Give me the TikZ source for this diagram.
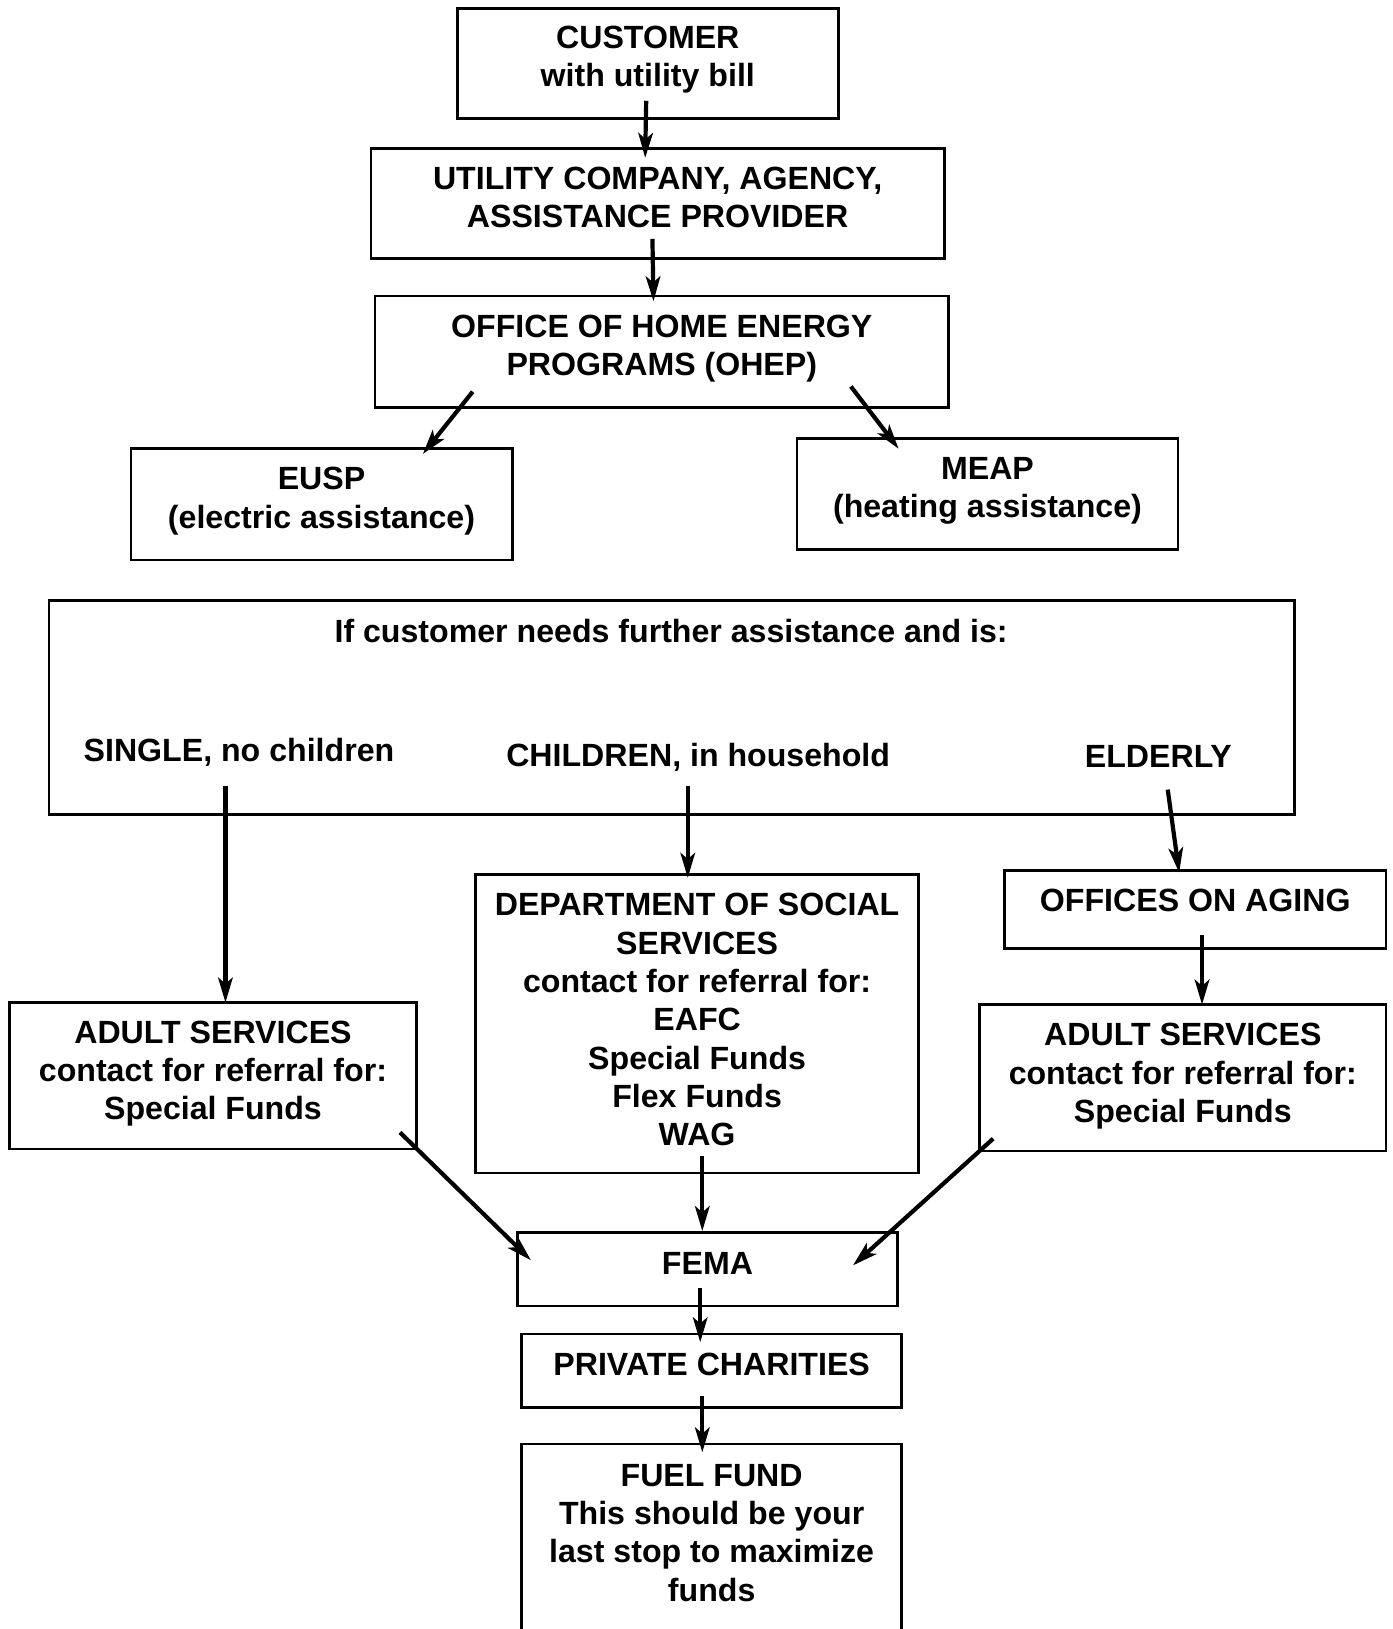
\documentclass[tikz,border=0pt]{standalone}
\usepackage{fontspec}
\setmainfont{Liberation Sans}
\usetikzlibrary{arrows.meta}
\begin{document}
\begin{tikzpicture}[x=0.02cm,y=-0.02cm,
  box/.style={draw,line width=1.5pt,inner sep=0pt,rectangle},
  txt/.style={font=\fontsize{17.6}{21}\selectfont\bfseries,align=center,inner sep=0pt},
  arr/.style={line width=2.3pt,-{Stealth[length=0.48cm,width=0.28cm,inset=0.12cm]}}]
\clip (0,0) rectangle (1340,1568);
% boxes
\node[box,minimum width=7.34cm,minimum height=2.12cm,label={[txt,yshift=0.07cm]center:{CUSTOMER\\with utility bill}}] (cust) at (623.5,61) {};
\node[box,minimum width=11.04cm,minimum height=2.12cm,label={[txt,yshift=0.12cm]center:{UTILITY COMPANY, AGENCY,\\ASSISTANCE PROVIDER}}] (util) at (633,196) {};
\node[box,minimum width=11.04cm,minimum height=2.14cm,label={[txt,yshift=0.06cm]center:{OFFICE OF HOME ENERGY\\PROGRAMS (OHEP)}}] (ohep) at (637,338.5) {};
\node[box,minimum width=7.34cm,minimum height=2.14cm,label={[txt,yshift=0.06cm]center:{EUSP\\(electric assistance)}}] (eusp) at (309.5,485.5) {};
\node[box,minimum width=7.34cm,minimum height=2.14cm,label={[txt,yshift=0.06cm]center:{MEAP\\(heating assistance)}}] (meap) at (950.5,475.5) {};
\node[box,minimum width=23.98cm,minimum height=4.12cm] (big) at (646.5,681) {};
\node[txt] (q) at (646,607) {If customer needs further assistance and is:};
\node[txt] (single) at (230,724) {SINGLE, no children};
\node[txt] (child) at (672,729) {CHILDREN, in household};
\node[txt] (elder) at (1115,728) {ELDERLY};
\node[box,minimum width=8.52cm,minimum height=5.74cm,label={[txt,yshift=0.08cm]center:{DEPARTMENT OF SOCIAL\\SERVICES\\contact for referral for:\\EAFC\\Special Funds\\Flex Funds\\WAG}}] (dss) at (671,985.5) {};
\node[box,minimum width=7.34cm,minimum height=1.5cm,label={[txt,yshift=0.17cm]center:{OFFICES ON AGING}}] (aging) at (1150.5,875.5) {};
\node[box,minimum width=7.84cm,minimum height=2.82cm,label={[txt,yshift=0.04cm]center:{ADULT SERVICES\\contact for referral for:\\Special Funds}}] (adl) at (205,1035.5) {};
\node[box,minimum width=7.82cm,minimum height=2.82cm,label={[txt,yshift=0.03cm]center:{ADULT SERVICES\\contact for referral for:\\Special Funds}}] (adr) at (1138.5,1037.5) {};
\node[box,minimum width=7.32cm,minimum height=1.42cm,label={[txt,yshift=0.11cm]center:{FEMA}}] (fema) at (681,1221.5) {};
\node[box,minimum width=7.32cm,minimum height=1.42cm,label={[txt,yshift=0.13cm]center:{PRIVATE CHARITIES}}] (priv) at (685,1319.5) {};
\node[box,minimum width=7.32cm,minimum height=4.0cm,label={[txt,yshift=0.29cm]center:{FUEL FUND\\This should be your\\last stop to maximize\\funds}}] (fuel) at (685,1490) {};
% connector ends
\coordinate (a1s) at (622,97);   \coordinate (a1e) at (621,152);
\coordinate (a2s) at (628,230);  \coordinate (a2e) at (629,290);
\coordinate (a3s) at (455,377);  \coordinate (a3e) at (407,437);
\coordinate (a4s) at (819,372);  \coordinate (a4e) at (865,432);
\coordinate (a5s) at (217,757);  \coordinate (a5e) at (217,965);
\coordinate (a6s) at (662,757);  \coordinate (a6e) at (662,845);
\coordinate (a7s) at (1124,760); \coordinate (a7e) at (1135,840);
\coordinate (a8s) at (1157,900); \coordinate (a8e) at (1157,967);
\coordinate (a9s) at (385,1090); \coordinate (a9e) at (511,1213);
\coordinate (a10s) at (676,1113); \coordinate (a10e) at (676,1185);
\coordinate (a11s) at (956,1096); \coordinate (a11e) at (821,1218);
\coordinate (a12s) at (674,1240); \coordinate (a12e) at (674,1292);
\coordinate (a13s) at (676,1344); \coordinate (a13e) at (676,1398);
% connectors
\foreach \i in {1,...,13} {\draw[arr] (a\i s) -- (a\i e);}
\end{tikzpicture}
\end{document}
